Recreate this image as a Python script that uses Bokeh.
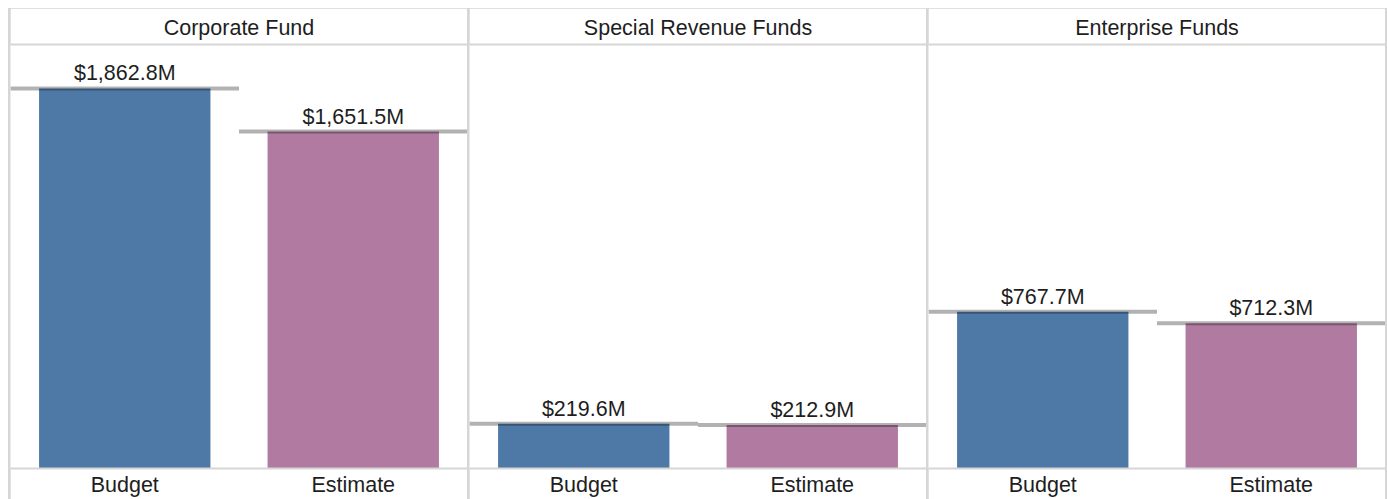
from bokeh.plotting import figure
from bokeh.models import FactorRange, Range1d, CategoricalAxis, ColumnDataSource, Spacer
from bokeh.layouts import row, column
from bokeh.embed import file_html
from bokeh.resources import INLINE
from bokeh.core.properties import value

# ---- data ----
funds = ["Corporate Fund", "Special Revenue Funds", "Enterprise Funds"]
measures = ["Budget", "Estimate"]
budget = [1862.8, 219.6, 767.7]
estimate = [1651.5, 212.9, 712.3]
measure_colors = ["#4e79a7", "#b07aa1"]
y_max = 2078

FONT = "Liberation Sans"
FS = "21.5px"
GRID = "#d6d6d6"
TXT = "#1e1e1e"
PW, PH = 457, 491

panels = []
for i, fund in enumerate(funds):
    vals = [budget[i], estimate[i]]
    src = ColumnDataSource(dict(
        m=measures, v=vals, c=measure_colors,
        lab=[f"${v:,.1f}M" for v in vals]))
    p = figure(x_range=FactorRange(*measures), y_range=Range1d(0, y_max),
               width=PW, height=PH, output_backend="svg", toolbar_location=None,
               min_border_left=0, min_border_right=0, min_border_top=36,
               min_border_bottom=31, y_axis_location=None,
               outline_line_color=None, background_fill_color="white",
               border_fill_color="white")
    bottom_axis = p.below[0]
    p.extra_x_ranges = {"hdr": FactorRange(fund)}
    hdr = CategoricalAxis(x_range_name="hdr")
    p.add_layout(hdr, "above")
    p.xgrid.visible = False
    p.ygrid.visible = False
    for ax, st in ((bottom_axis, 4), (hdr, 5)):
        ax.axis_line_color = GRID
        ax.axis_line_width = 2
        ax.major_tick_line_color = None
        ax.minor_tick_line_color = None
        ax.major_tick_out = 0
        ax.major_tick_in = 0
        ax.major_label_text_font = FONT
        ax.major_label_text_font_size = FS
        ax.major_label_text_color = TXT
        ax.major_label_standoff = st

    p.vbar(x="m", top="v", width=0.75, fill_color="c", line_color=None, source=src)
    p.rect(x="m", y="v", width=1.0, height=4, height_units="screen",
           fill_color="black", fill_alpha=0.3, line_color=None, source=src)
    p.text(x="m", y="v", text="lab", text_align="center", text_baseline="alphabetic",
           y_offset=-15, text_font=value(FONT), text_font_size=FS, text_color=TXT,
           source=src)
    panels.append(p)

inner = row([Spacer(width=0, height=PH), *panels, Spacer(width=0, height=PH)],
            spacing=2, styles={"background-color": GRID})
layout = column([Spacer(width=1387, height=8),
                 row([Spacer(width=8, height=PH), inner], spacing=0)], spacing=0)

open("out.html", "w").write(file_html(layout, INLINE))
